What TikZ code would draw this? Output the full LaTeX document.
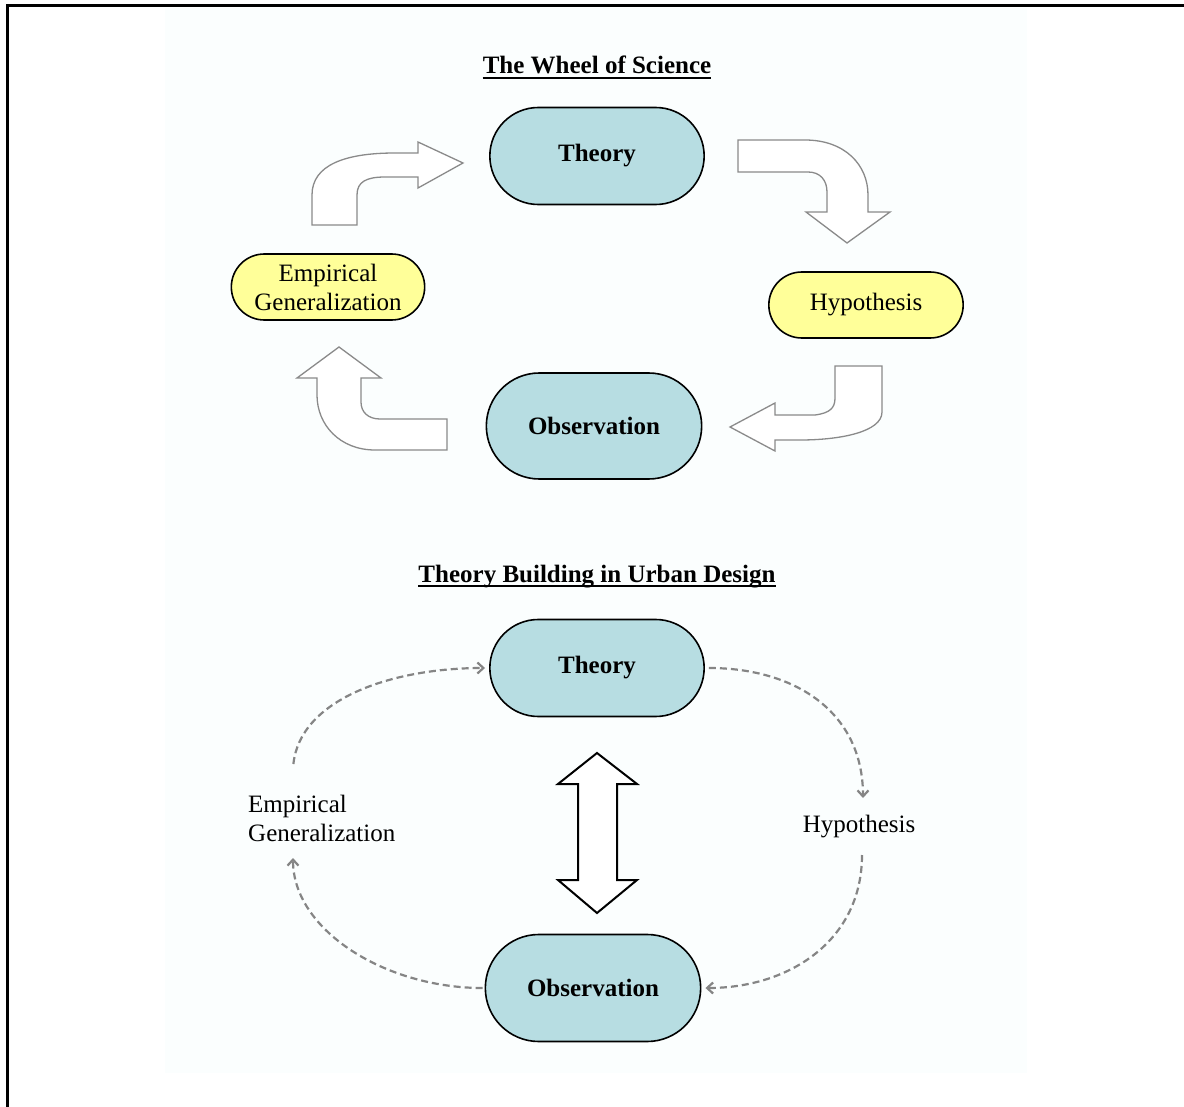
\documentclass[tikz,border=0pt]{standalone}
\usepackage{fontspec}
\setmainfont{Liberation Serif}
\usepackage{tikz}
\usetikzlibrary{arrows.meta,shapes.misc}
\definecolor{wheelblue}{HTML}{B7DDE2}
\definecolor{wheelyellow}{HTML}{FFFF99}
\definecolor{arrowgray}{HTML}{8A8A8A}
\definecolor{dashgray}{HTML}{858585}
\definecolor{bgtint}{HTML}{FBFEFE}

\begin{document}
\begin{tikzpicture}[x=1pt,y=-1pt,font=\fontsize{25}{29}\selectfont,
  stagebox/.style={rounded rectangle,draw=black,line width=1.6pt,fill=wheelblue,minimum width=221pt,minimum height=97pt,font=\fontsize{25}{29}\selectfont\bfseries},
  ideabox/.style={rounded rectangle,draw=black,line width=1.6pt,fill=wheelyellow,minimum width=200pt,minimum height=66pt,align=center},
  bentarrow/.style={draw=arrowgray,line width=1.3pt,fill=white,line join=miter},
  cycleline/.style={draw=dashgray,line width=2.2pt,dash pattern=on 7pt off 4pt,-{Straight Barb[length=6pt,width=11pt]}},
  heading/.style={inner sep=0pt,anchor=base,font=\fontsize{25}{29}\selectfont\bfseries}]
\useasboundingbox (0,0) rectangle (1184,1107);
\fill[bgtint] (165,8) rectangle (1027,1073);
\draw[line width=3pt,line join=miter] (7,1107) -- (7,6) -- (1184,6);

% wheel of science
\node[heading] (titleA) at (597,74) {The Wheel of Science};
\draw[line width=1.3pt] ([yshift=-4pt]titleA.base west) -- ([yshift=-4pt]titleA.base east);
\node[stagebox] (theoryA) at (597,156) {Theory};
\node[ideabox] (empA) at (328,287) {Empirical\\Generalization};
\node[ideabox,minimum width=201pt] (hypA) at (866,305) {Hypothesis};
\node[stagebox,minimum width=222pt,minimum height=106pt] (obsA) at (594,426) {Observation};

\draw[bentarrow] (312,225) -- (357,225) -- (357,195) .. controls (357,182) and (366,177) .. (385,177)
  -- (418,177) -- (418,188) -- (463,163) -- (418,142) -- (418,153) -- (395,153)
  .. controls (345,153) and (312,165) .. (312,195) -- cycle;
\draw[bentarrow] (738,140) -- (805,140) .. controls (845,140) and (868,165) .. (868,195)
  -- (868,212) -- (890,212) -- (847,243) -- (806,212) -- (827,212) -- (827,192)
  .. controls (827,180) and (820,172) .. (808,172) -- (738,172) -- cycle;
\draw[bentarrow] (835,366) -- (882,366) -- (882,412) .. controls (882,432) and (840,440) .. (800,440)
  -- (775,440) -- (775,451) -- (730,427) -- (775,403) -- (775,415) -- (815,415)
  .. controls (830,413) and (835,408) .. (835,398) -- cycle;
\draw[bentarrow] (447,419) -- (447,450) -- (375,450) .. controls (340,450) and (317,425) .. (317,395)
  -- (317,378) -- (297,378) -- (339,347) -- (381,378) -- (361,378) -- (361,402)
  .. controls (361,412) and (368,419) .. (380,419) -- cycle;

% theory building
\node[heading] (titleB) at (597,582) {Theory Building in Urban Design};
\draw[line width=1.3pt] ([yshift=-4pt]titleB.base west) -- ([yshift=-4pt]titleB.base east);
\node[stagebox] (theoryB) at (597,668) {Theory};
\node[stagebox,minimum width=222pt,minimum height=107pt] (obsB) at (593,988) {Observation};
\node[inner sep=0pt,anchor=west,align=left] (empB) at (248,818) {Empirical\\Generalization};
\node[inner sep=0pt] (hypB) at (859,827) {Hypothesis};

\coordinate (empUp) at (293,768);
\coordinate (empDown) at (293,858);
\coordinate (hypUp) at (863,798);
\coordinate (hypDown) at (862,855);
\draw[cycleline,shorten >=4pt,shorten <=4pt] (empUp) .. controls (300,700) and (390,668) .. (theoryB.west);
\draw[cycleline,shorten <=4pt] (theoryB.east) .. controls (795,668) and (863,712) .. (hypUp);
\draw[cycleline,shorten >=4pt] (hypDown) .. controls (862,940) and (790,988) .. (obsB.east);
\draw[cycleline,shorten <=2pt] (obsB.west) .. controls (385,988) and (293,930) .. (empDown);

\draw[line width=2pt,fill=white,line join=miter] (597,753) -- (637,784) -- (617,784) -- (617,880)
  -- (637,880) -- (597,913) -- (558,880) -- (578,880) -- (578,784) -- (558,784) -- cycle;
\end{tikzpicture}
\end{document}
